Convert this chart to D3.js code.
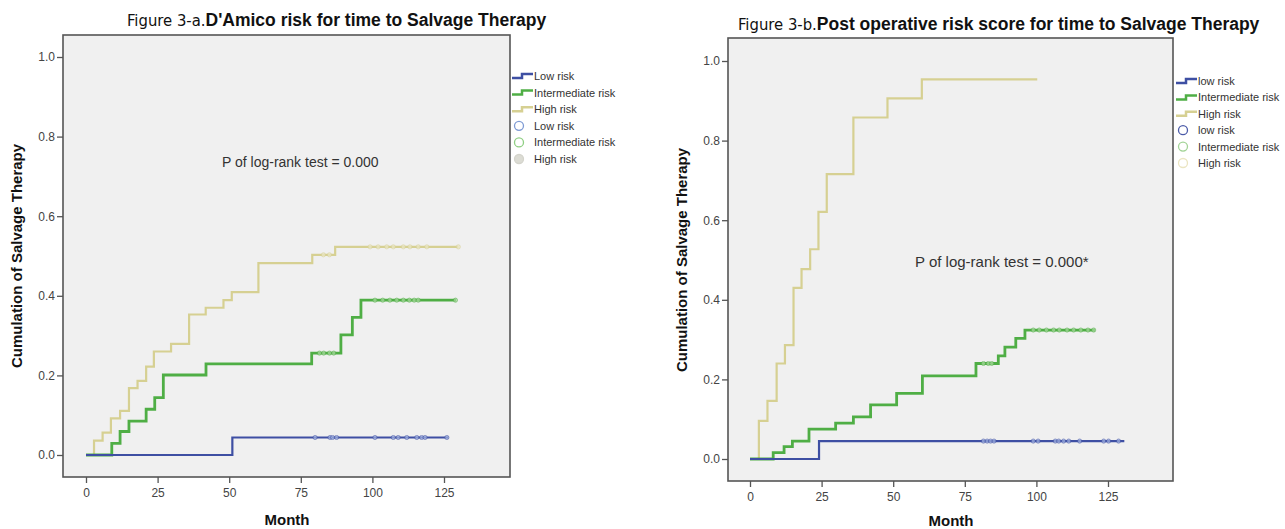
<!DOCTYPE html>
<html><head><meta charset="utf-8">
<script src="https://cdn.jsdelivr.net/npm/d3@7"></script>
<style>
html,body{margin:0;padding:0;background:#fff;}
svg{display:block;font-family:"Liberation Sans",Arial,sans-serif;}
</style></head>
<body><svg id="c" width="1285" height="529"></svg>
<script>
// ---------- DATA ----------
const xTicks = [0, 25, 50, 75, 100, 125];
const yTicks = [0, 0.2, 0.4, 0.6, 0.8, 1.0];

// Figure 3-a (D'Amico risk)
const aLowT = [0, 51.1];
const aLowV = [0, 0.044];
const aLowEnd = 126.5;
const aLowCens = [80, 85.2, 86.1, 87.5, 100.9, 107.3, 109, 112, 115.5, 117.2, 118.4, 126];

const aIntT = [0, 9, 11.9, 15, 21, 24, 27, 41.9, 78.8, 89, 93, 96];
const aIntV = [0, 0.029, 0.059, 0.085, 0.115, 0.144, 0.201, 0.229, 0.256, 0.302, 0.346, 0.389];
const aIntEnd = 129.2;
const aIntCens = [81.5, 83, 85, 86.5, 100.9, 103.6, 106.1, 108.5, 110.8, 112.9, 114.6, 116, 129];

const aHighT = [0, 2.8, 5.8, 8.7, 11.9, 15, 18, 21, 23.7, 29.7, 36, 41.8, 48, 50.9, 60.2, 79, 87];
const aHighV = [0, 0.036, 0.056, 0.092, 0.111, 0.168, 0.186, 0.222, 0.26, 0.279, 0.353, 0.37, 0.389, 0.409, 0.482, 0.503, 0.523];
const aHighEnd = 130;
const aHighCens = [82.9, 85, 99.2, 102, 105, 107.3, 110.8, 113.1, 116, 119, 130];

// Figure 3-b (Post operative risk score)
const bLowT = [0, 24.1];
const bLowV = [0, 0.045];
const bLowEnd = 130.7;
const bLowCens = [81.5, 82.8, 84, 85.2, 98.9, 100.6, 106.6, 107.8, 109.5, 111.3, 115.1, 123.5, 125.2, 128.7];

const bIntT = [0, 8.1, 11.9, 14.8, 20.6, 29.9, 36.1, 42.1, 51.2, 60.2, 78.9, 86.7, 89, 92.8, 96];
const bIntV = [0, 0.016, 0.031, 0.045, 0.075, 0.09, 0.106, 0.136, 0.165, 0.209, 0.24, 0.259, 0.281, 0.303, 0.324];
const bIntEnd = 120.5;
const bIntCens = [81.5, 83.2, 84.4, 98.9, 101, 103.5, 106, 108, 110.7, 113, 115.5, 118, 120];

const bHighT = [0, 3.1, 6.1, 9.3, 12.2, 15.2, 18, 21, 23.9, 26.8, 36.1, 48, 60];
const bHighV = [0, 0.096, 0.146, 0.24, 0.286, 0.43, 0.477, 0.527, 0.621, 0.716, 0.858, 0.906, 0.954];
const bHighEnd = 100.3;
const bHighCens = [];

const legendA = ["Low risk", "Intermediate risk", "High risk"];
const legendB = ["low risk", "Intermediate risk", "High risk"];
const titlesA = ["Figure 3-a.", "D'Amico risk for time to Salvage Therapy"];
const titlesB = ["Figure 3-b.", "Post operative risk score for time to Salvage Therapy"];
const pTextA = "P of log-rank test = 0.000";
const pTextB = "P of log-rank test = 0.000*";
const xLabel = "Month";
const yLabel = "Cumulation of Salvage Therapy";

// ---------- STYLE ----------
const colors = ["#3e4fa3", "#4fae45", "#d6d092"];
const censFill = ["#9fb0e0", "#a6d89c", "#ebe7c6"];
const widths = [2.2, 2.8, 2.2];

const svg = d3.select("#c");

function panel(cfg) {
  const g = svg.append("g");
  const x = d3.scaleLinear().domain([0, 125]).range([cfg.x0tick, cfg.x125tick]);
  const y = d3.scaleLinear().domain([0, 1]).range([cfg.y0tick, cfg.y1tick]);

  g.append("rect").attr("x", cfg.fx0).attr("y", cfg.fy0)
    .attr("width", cfg.fx1 - cfg.fx0).attr("height", cfg.fy1 - cfg.fy0)
    .attr("fill", "#f0f0f0").attr("stroke", "#555").attr("stroke-width", 1.6);

  // axes
  const ya = g.append("g").attr("transform", `translate(${cfg.fx0},0)`)
    .call(d3.axisLeft(y).tickValues(yTicks).tickFormat(d3.format(".1f")).tickSize(6).tickPadding(2));
  const xa = g.append("g").attr("transform", `translate(0,${cfg.fy1})`)
    .call(d3.axisBottom(x).tickValues(xTicks).tickSize(6).tickPadding(5));
  [ya, xa].forEach(a => {
    a.select(".domain").remove();
    a.selectAll("line").attr("stroke", "#555").attr("stroke-width", 1.3);
    a.selectAll("text").attr("fill", "#444").style("font-size", "12px")
      .style("font-family", "'Liberation Sans',Arial,sans-serif");
  });

  // curves
  const line = d3.line().x(d => x(d[0])).y(d => y(d[1])).curve(d3.curveStepAfter);
  const order = [2, 1, 0];
  order.forEach(i => {
    const s = cfg.series[i];
    const pts = s.t.map((t, k) => [t, s.v[k]]);
    pts.push([s.end, s.v[s.v.length - 1]]);
    g.append("path").attr("d", line(pts)).attr("fill", "none")
      .attr("stroke", colors[i]).attr("stroke-width", widths[i]);
    s.c.forEach(ct => {
      const idx = d3.bisectRight(s.t, ct) - 1;
      g.append("circle").attr("cx", x(ct)).attr("cy", y(s.v[idx])).attr("r", 2.1)
        .attr("fill", censFill[i]).attr("stroke", colors[i]).attr("stroke-width", 0.7)
        .attr("opacity", 0.75);
    });
  });

  // titles
  const t = g.append("text").attr("x", cfg.titleX).attr("y", cfg.titleY).attr("fill", "#111");
  t.append("tspan").text(cfg.titles[0]).style("font-family", "'Liberation Sans Narrow','DejaVu Sans Condensed',sans-serif")
    .style("font-size", "16.5px").style("font-stretch", "condensed");
  t.append("tspan").text(cfg.titles[1]).style("font-weight", "bold").style("font-size", "17.5px");

  g.append("text").attr("x", cfg.monthX).attr("y", cfg.monthY).attr("text-anchor", "middle")
    .style("font-weight", "bold").style("font-size", "15px").attr("fill", "#111").text(xLabel);
  g.append("text").attr("transform", `translate(${cfg.ylabX},${cfg.ylabY}) rotate(-90)`)
    .attr("text-anchor", "middle").style("font-weight", "bold").style("font-size", "15px")
    .attr("fill", "#111").text(yLabel);

  g.append("text").attr("x", cfg.pX).attr("y", cfg.pY).style("font-size", cfg.pSize)
    .attr("fill", "#333").text(cfg.pText);

  // legend
  cfg.legend.forEach((name, i) => {
    const ly = cfg.legY + i * cfg.legStep;
    const lx = cfg.legX;
    g.append("path").attr("d", `M${lx},${ly + 2}H${lx + 10}V${ly - 2}H${lx + 21}`)
      .attr("fill", "none").attr("stroke", colors[i]).attr("stroke-width", 2.5);
    g.append("text").attr("x", lx + 22).attr("y", ly + 4).style("font-size", "11px")
      .attr("fill", "#333").text(name);
    const cy = cfg.legY + (i + 3) * cfg.legStep;
    g.append("circle").attr("cx", lx + 7).attr("cy", cy).attr("r", 4.5)
      .attr("fill", cfg.circFill[i]).attr("stroke", cfg.circStroke[i]).attr("stroke-width", 1.3);
    g.append("text").attr("x", lx + 22).attr("y", cy + 4).style("font-size", "11px")
      .attr("fill", "#333").text(name);
  });
}

panel({
  x0tick: 86, x125tick: 444, y0tick: 455, y1tick: 57,
  fx0: 63, fx1: 510, fy0: 35, fy1: 477,
  series: [
    {t: aLowT, v: aLowV, end: aLowEnd, c: aLowCens},
    {t: aIntT, v: aIntV, end: aIntEnd, c: aIntCens},
    {t: aHighT, v: aHighV, end: aHighEnd, c: aHighCens}
  ],
  titles: titlesA, titleX: 127, titleY: 26,
  monthX: 287, monthY: 525, ylabX: 22, ylabY: 256,
  pX: 222, pY: 167, pSize: "14px", pText: pTextA,
  legend: legendA, legX: 512, legY: 76, legStep: 16.6,
  circFill: ["none", "none", "#dcdcd4"], circStroke: ["#7f9bd4", "#8fcf83", "#d4d4cc"]
});

panel({
  x0tick: 750, x125tick: 1108, y0tick: 459, y1tick: 61,
  fx0: 728, fx1: 1173, fy0: 38, fy1: 481,
  series: [
    {t: bLowT, v: bLowV, end: bLowEnd, c: bLowCens},
    {t: bIntT, v: bIntV, end: bIntEnd, c: bIntCens},
    {t: bHighT, v: bHighV, end: bHighEnd, c: bHighCens}
  ],
  titles: titlesB, titleX: 738, titleY: 30,
  monthX: 951, monthY: 526, ylabX: 687, ylabY: 260,
  pX: 915, pY: 267, pSize: "15px", pText: pTextB,
  legend: legendB, legX: 1176, legY: 81, legStep: 16.4,
  circFill: ["none", "none", "none"], circStroke: ["#4a5aa8", "#a3d497", "#ebe5c2"]
});
</script>
</body></html>
